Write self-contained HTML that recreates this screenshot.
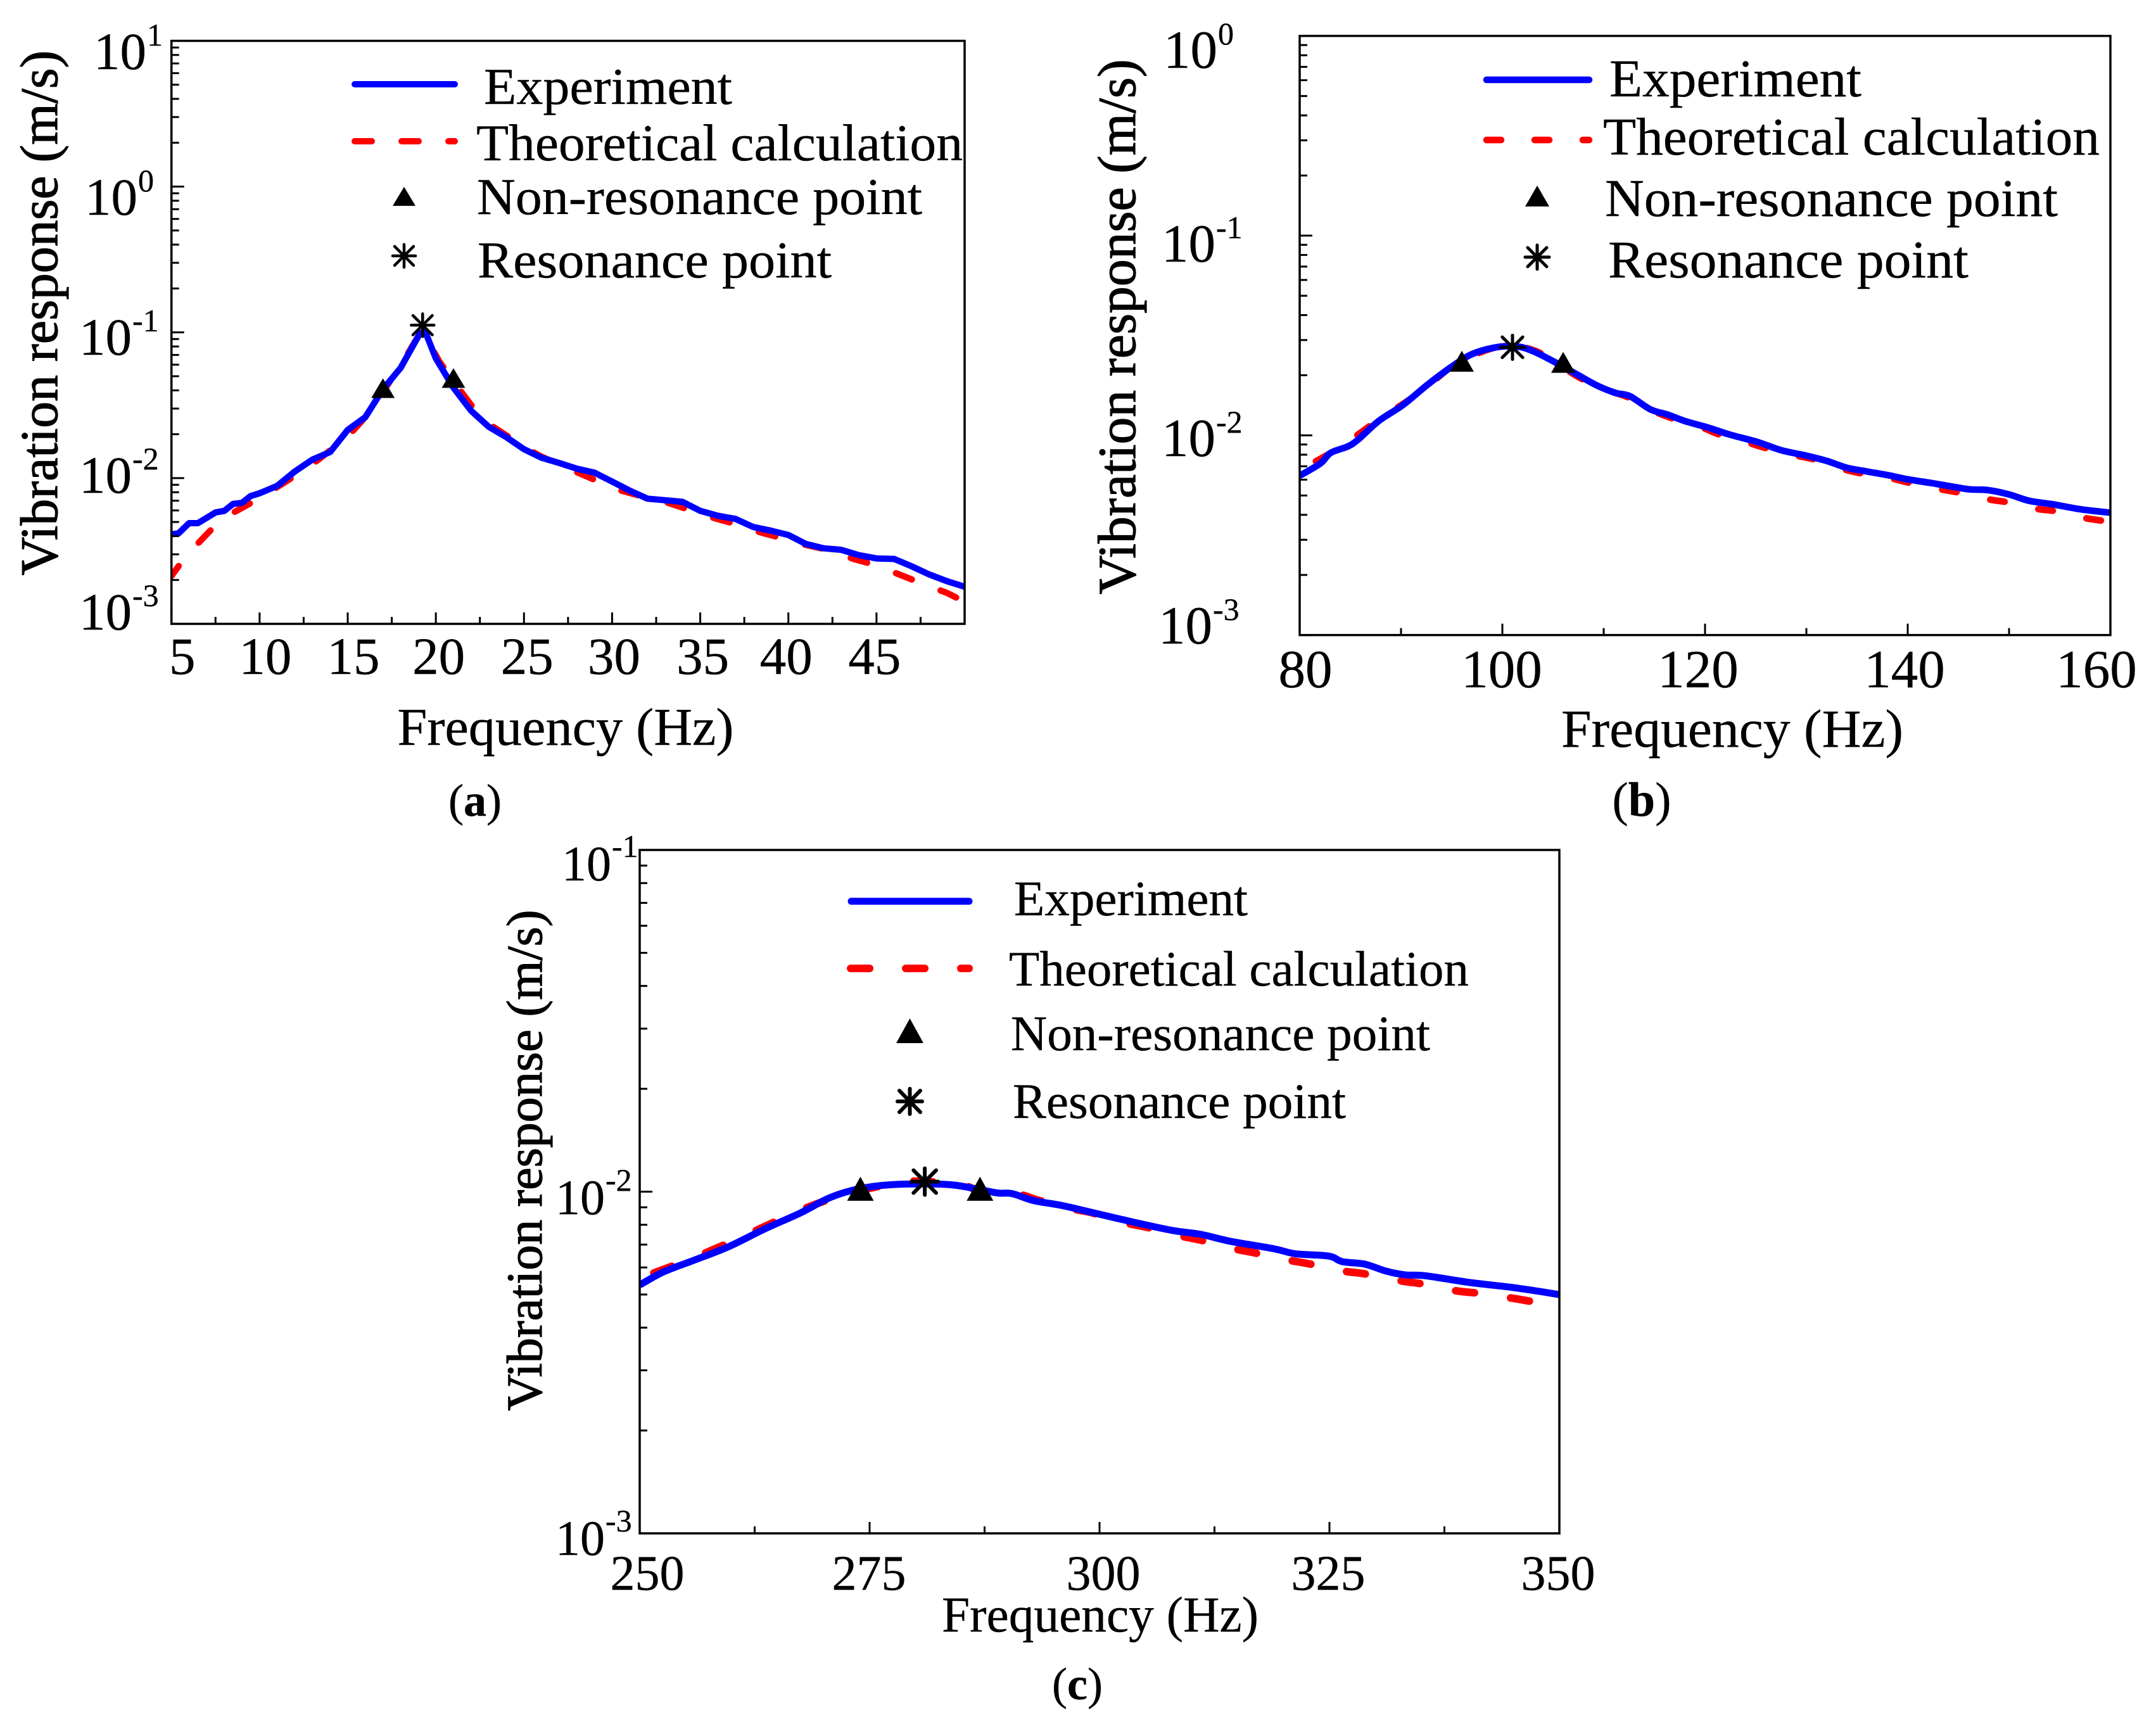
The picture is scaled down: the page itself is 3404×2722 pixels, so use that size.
<!DOCTYPE html>
<html lang="en">
<head>
<meta charset="utf-8">
<title>Vibration response charts</title>
<style>
html,body{margin:0;padding:0;background:#fff;}
svg{display:block;}
text{font-family:"Liberation Serif","Times New Roman",serif;fill:#000;stroke:#000;stroke-width:0.4px;}
.ytitle{stroke-width:1.2px;}
</style>
</head>
<body>
<svg id="figure" xmlns="http://www.w3.org/2000/svg" width="3404" height="2722" viewBox="0 0 3404 2722">
  <rect x="0" y="0" width="3404" height="2722" fill="#fff"/>

  <g id="panel-a"></g>
  <g id="panel-b"></g>
  <g id="panel-c"></g>

  <!-- Panel a text + legend -->
  <text x="893" y="1176" font-size="84" text-anchor="middle" textLength="531" lengthAdjust="spacingAndGlyphs">Frequency (Hz)</text>
  <text class="ytitle" transform="translate(90,494) rotate(-90)" font-size="84" text-anchor="middle" textLength="829" lengthAdjust="spacingAndGlyphs">Vibration response (m/s)</text>
  <text x="750" y="1288" font-size="72" text-anchor="middle">(<tspan font-weight="bold">a</tspan>)</text>
  <g>
    <line x1="560" y1="133" x2="718" y2="133" stroke="#0000ff" stroke-width="10" stroke-linecap="round"/>
    <line x1="560" y1="223" x2="718" y2="223" stroke="#ff0000" stroke-width="10" stroke-linecap="round" stroke-dasharray="27 47"/>
    <polygon points="638,295 656,325 620,325" fill="#000"/>
    <g stroke="#000" stroke-width="4.5" stroke-linecap="round">
      <line x1="638" y1="386" x2="638" y2="422"/><line x1="620" y1="404" x2="656" y2="404"/><line x1="623" y1="389" x2="653" y2="419"/><line x1="653" y1="389" x2="623" y2="419"/>
    </g>
    <text x="764" y="164" font-size="82" textLength="392" lengthAdjust="spacingAndGlyphs">Experiment</text>
    <text x="752" y="253" font-size="82" textLength="768" lengthAdjust="spacingAndGlyphs">Theoretical calculation</text>
    <text x="753" y="338" font-size="82" textLength="703" lengthAdjust="spacingAndGlyphs">Non-resonance point</text>
    <text x="754" y="438" font-size="82" textLength="559" lengthAdjust="spacingAndGlyphs">Resonance point</text>
  </g>

  <!-- Panel b text + legend -->
  <text x="2735" y="1179" font-size="85" text-anchor="middle" textLength="540" lengthAdjust="spacingAndGlyphs">Frequency (Hz)</text>
  <text class="ytitle" transform="translate(1792,516) rotate(-90)" font-size="85" text-anchor="middle" textLength="845" lengthAdjust="spacingAndGlyphs">Vibration response (m/s)</text>
  <text x="2592" y="1288" font-size="76" text-anchor="middle">(<tspan font-weight="bold">b</tspan>)</text>
  <g>
    <line x1="2347" y1="126" x2="2509" y2="126" stroke="#0000ff" stroke-width="10.5" stroke-linecap="round"/>
    <line x1="2347" y1="221" x2="2509" y2="221" stroke="#ff0000" stroke-width="10.5" stroke-linecap="round" stroke-dasharray="23 53"/>
    <polygon points="2427,293 2446,326 2408,326" fill="#000"/>
    <g stroke="#000" stroke-width="5" stroke-linecap="round">
      <line x1="2427" y1="387" x2="2427" y2="425"/><line x1="2408" y1="406" x2="2446" y2="406"/><line x1="2412" y1="391" x2="2442" y2="421"/><line x1="2442" y1="391" x2="2412" y2="421"/>
    </g>
    <text x="2541" y="152" font-size="84" textLength="398" lengthAdjust="spacingAndGlyphs">Experiment</text>
    <text x="2531" y="244" font-size="84" textLength="784" lengthAdjust="spacingAndGlyphs">Theoretical calculation</text>
    <text x="2534" y="341" font-size="84" textLength="715" lengthAdjust="spacingAndGlyphs">Non-resonance point</text>
    <text x="2539" y="438" font-size="84" textLength="569" lengthAdjust="spacingAndGlyphs">Resonance point</text>
  </g>

  <!-- Panel c text + legend -->
  <text x="1737" y="2576" font-size="79" text-anchor="middle" textLength="500" lengthAdjust="spacingAndGlyphs">Frequency (Hz)</text>
  <text class="ytitle" transform="translate(855,1832) rotate(-90)" font-size="79" text-anchor="middle" textLength="791" lengthAdjust="spacingAndGlyphs">Vibration response (m/s)</text>
  <text x="1701" y="2683" font-size="72" text-anchor="middle">(<tspan font-weight="bold">c</tspan>)</text>
  <g>
    <line x1="1344" y1="1423" x2="1530" y2="1423" stroke="#0000ff" stroke-width="11" stroke-linecap="round"/>
    <line x1="1343" y1="1529" x2="1530" y2="1529" stroke="#ff0000" stroke-width="12" stroke-linecap="round" stroke-dasharray="30 57"/>
    <polygon points="1436.5,1608 1458,1647 1415,1647" fill="#000"/>
    <g stroke="#000" stroke-width="6" stroke-linecap="round">
      <line x1="1436.5" y1="1719" x2="1436.5" y2="1759"/><line x1="1417" y1="1739" x2="1456" y2="1739"/><line x1="1420" y1="1722" x2="1453" y2="1756"/><line x1="1453" y1="1722" x2="1420" y2="1756"/>
    </g>
    <text x="1601" y="1445" font-size="78" textLength="369" lengthAdjust="spacingAndGlyphs">Experiment</text>
    <text x="1593" y="1556" font-size="78" textLength="726" lengthAdjust="spacingAndGlyphs">Theoretical calculation</text>
    <text x="1596" y="1658" font-size="78" textLength="662" lengthAdjust="spacingAndGlyphs">Non-resonance point</text>
    <text x="1599" y="1765" font-size="78" textLength="526" lengthAdjust="spacingAndGlyphs">Resonance point</text>
  </g>
</svg>

<script>
// ---------- Panel a data ----------
var aXTicks = [5,10,15,20,25,30,35,40,45];
var aXLabels = ["5","10","15","20","25","30","35","40","45"];
var aXMinorTicks = [7.5,12.5,17.5,22.5,27.5,32.5,37.5,42.5,47.5];
var aYExponents = [1,0,-1,-2,-3];
var aExpFreq = [5,5.4,6,6.5,7.5,8,8.5,9,9.5,10,11,12,13,14,15,16,17,18,19.1,19.4,20,21,22,23,24,25,26,27,28,29,30,31,32,33,34,35,36,37,38,39,40,41,42,43,44,45,46,47,48,49,50];
var aExpVal = [4.11e-3,4.18e-3,4.91e-3,4.91e-3,5.81e-3,5.96e-3,6.65e-3,6.76e-3,7.54e-3,7.87e-3,8.85e-3,1.11e-2,1.34e-2,1.51e-2,2.14e-2,2.62e-2,4.07e-2,5.70e-2,9.86e-2,0.101,6.63e-2,4.17e-2,2.90e-2,2.25e-2,1.91e-2,1.58e-2,1.38e-2,1.27e-2,1.16e-2,1.09e-2,9.47e-3,8.20e-3,7.23e-3,7.05e-3,6.87e-3,5.96e-3,5.52e-3,5.25e-3,4.62e-3,4.36e-3,4.07e-3,3.53e-3,3.30e-3,3.22e-3,2.96e-3,2.81e-3,2.79e-3,2.48e-3,2.18e-3,1.96e-3,1.80e-3];
var aTheoryFreq = [5,5.84,7.2,8.3,9.96,11.06,12.7,13.8,15.3,16.2,17.3,18.2,19.1,19.4,20.2,21,22.25,23.25,25,25.9,27.6,28.7,30.3,31.4,32.9,34,35.65,36.75,38.4,39.5,41,42.1,43.7,44.8,46.3,47.4,49,50];
var aTheoryVal = [2.13e-3,2.94e-3,4.36e-3,5.61e-3,7.23e-3,8.77e-3,1.17e-2,1.48e-2,2.11e-2,2.79e-2,4.43e-2,6.47e-2,9.86e-2,9.44e-2,6.31e-2,4.61e-2,2.90e-2,2.25e-2,1.64e-2,1.42e-2,1.15e-2,1.01e-2,8.34e-3,7.67e-3,6.93e-3,6.27e-3,5.38e-3,4.94e-3,4.25e-3,3.91e-3,3.48e-3,3.25e-3,2.79e-3,2.56e-3,2.18e-3,1.93e-3,1.63e-3,1.42e-3];
var aNonResFreq = [17,21];
var aNonResVal = [0.0414,0.0486];
var aResFreq = [19.25];
var aResVal = [0.112];

// ---------- Panel b data ----------
var bXTicks = [80,100,120,140,160];
var bXLabels = ["80","100","120","140","160"];
var bXMinorTicks = [90,110,130,150];
var bYExponents = [0,-1,-2,-3];
var bExpFreq = [80,82.04,83.06,84.75,85.77,87.8,90.2,92.6,94.9,97,99.4,101.4,103.1,105.5,107.5,109.5,111.2,112.6,114.6,116.3,118,120.4,122.4,125.2,127.5,129.9,132,134,136,138.1,140.1,142.8,145.9,147.9,150,152,154.4,157.1,160];
var bExpVal = [6.28e-3,7.23e-3,8.17e-3,8.80e-3,9.53e-3,1.18e-2,1.42e-2,1.79e-2,2.19e-2,2.55e-2,2.76e-2,2.79e-2,2.63e-2,2.28e-2,2.00e-2,1.76e-2,1.63e-2,1.57e-2,1.35e-2,1.27e-2,1.18e-2,1.09e-2,1.01e-2,9.25e-3,8.43e-3,7.93e-3,7.45e-3,6.88e-3,6.59e-3,6.31e-3,6.01e-3,5.72e-3,5.38e-3,5.32e-3,5.06e-3,4.70e-3,4.51e-3,4.26e-3,4.10e-3];
var bTheoryFreq = [81,83.06,85.77,87.8,90.5,92.6,94.9,97,99.4,101.4,103.4,105.5,107.5,109.9,112.3,114.6,116.3,119.4,121.4,124.1,125.8,128.9,130.9,133.6,135.3,138.4,140.4,143.2,145.2,147.9,150,152.7,154.7,157.4,159.5];
var bTheoryVal = [7.14e-3,8.17e-3,1.01e-2,1.20e-2,1.47e-2,1.76e-2,2.19e-2,2.50e-2,2.76e-2,2.79e-2,2.63e-2,2.28e-2,1.96e-2,1.71e-2,1.56e-2,1.35e-2,1.24e-2,1.11e-2,1.01e-2,9.25e-3,8.69e-3,7.93e-3,7.55e-3,6.79e-3,6.47e-3,6.08e-3,5.75e-3,5.38e-3,5.15e-3,4.79e-3,4.61e-3,4.29e-3,4.16e-3,3.86e-3,3.72e-3];
var bNonResFreq = [96,106];
var bNonResVal = [0.0235,0.0232];
var bResFreq = [101];
var bResVal = [0.0276];

// ---------- Panel c data ----------
var cXTicks = [250,275,300,325,350];
var cXLabels = ["250","275","300","325","350"];
var cXMinorTicks = [262.5,287.5,312.5,337.5];
var cYExponents = [-1,-2,-3];
var cExpFreq = [250,252.5,255.7,259.6,263.6,267.5,270.7,273.9,277.8,283.4,286.5,288.9,290.5,292.8,296,300,303.9,307.9,311,314.2,318.9,321.3,324.9,326.4,328.8,331.2,333.2,335.5,340.3,345,350];
var cExpVal = [5.33e-3,5.81e-3,6.27e-3,6.89e-3,7.78e-3,8.67e-3,9.61e-3,1.02e-2,1.05e-2,1.05e-2,1.02e-2,9.91e-3,9.87e-3,9.42e-3,9.10e-3,8.59e-3,8.12e-3,7.70e-3,7.50e-3,7.16e-3,6.81e-3,6.58e-3,6.48e-3,6.24e-3,6.14e-3,5.85e-3,5.71e-3,5.67e-3,5.42e-3,5.24e-3,5.00e-3];
var cTheoryFreq = [250,255.7,260.8,263.2,266.8,269.1,272.3,275.5,278.6,281,284.9,287.3,291.3,293.2,296.8,299.2,302.7,305.1,308.7,311,314.6,317,320.5,322.9,326.4,328.8,332.8,335.1,338.7,341,344.6,347];
var cTheoryVal = [5.58e-3,6.38e-3,7.30e-3,7.82e-3,8.67e-3,9.18e-3,9.84e-3,1.03e-2,1.07e-2,1.07e-2,1.05e-2,1.00e-2,9.80e-3,9.46e-3,8.93e-3,8.67e-3,8.12e-3,7.87e-3,7.43e-3,7.21e-3,6.81e-3,6.61e-3,6.31e-3,6.14e-3,5.86e-3,5.75e-3,5.48e-3,5.37e-3,5.13e-3,5.05e-3,4.89e-3,4.77e-3];
var cNonResFreq = [274,287];
var cNonResVal = [0.0102,0.0102];
var cResFreq = [281];
var cResVal = [0.0107];

// ---------- Rendering ----------
var NS = 'http://www.w3.org/2000/svg';

function make(tag, attrs, parent) {
  var node = document.createElementNS(NS, tag);
  for (var k in attrs) { node.setAttribute(k, attrs[k]); }
  parent.appendChild(node);
  return node;
}

function drawPanel(cfg) {
  var root = document.getElementById('panel-' + cfg.id);
  var L = cfg.left, R = cfg.right, T = cfg.top, B = cfg.bottom;
  var topExp = cfg.yExponents[0];
  var botExp = cfg.yExponents[cfg.yExponents.length - 1];
  function xScale(f) { return L + (f - cfg.xMin) / (cfg.xMax - cfg.xMin) * (R - L); }
  function yScale(v) { return T + (topExp - Math.log10(v)) / (topExp - botExp) * (B - T); }

  var clip = make('clipPath', { id: 'clip-' + cfg.id }, root);
  make('rect', { x: L, y: T, width: R - L, height: B - T }, clip);

  function pathFrom(xs, ys) {
    var px = xs.map(xScale), py = ys.map(yScale);
    var d = 'M' + px[0].toFixed(1) + ' ' + py[0].toFixed(1);
    for (var i = 0; i < px.length - 1; i++) {
      if (cfg.smooth) {
        var a = Math.max(i - 1, 0), b = Math.min(i + 2, px.length - 1);
        d += 'C' + (px[i] + (px[i + 1] - px[a]) / 6).toFixed(1) + ' ' + (py[i] + (py[i + 1] - py[a]) / 6).toFixed(1) +
             ' ' + (px[i + 1] - (px[b] - px[i]) / 6).toFixed(1) + ' ' + (py[i + 1] - (py[b] - py[i]) / 6).toFixed(1) +
             ' ' + px[i + 1].toFixed(1) + ' ' + py[i + 1].toFixed(1);
      } else {
        d += 'L' + px[i + 1].toFixed(1) + ' ' + py[i + 1].toFixed(1);
      }
    }
    return d;
  }

  var theory = make('path', { d: pathFrom(cfg.theoryFreq, cfg.theoryVal), fill: 'none', stroke: '#ff0000', 'stroke-width': cfg.redWidth, 'stroke-linecap': 'round', 'stroke-linejoin': 'round', 'stroke-dasharray': cfg.dashOn + ' ' + cfg.dashOff, 'clip-path': 'url(#clip-' + cfg.id + ')' }, root);
  
  
  // align dash phase with the anchor frequency where a dash begins
  var period = cfg.dashOn + cfg.dashOff;
  var total = theory.getTotalLength();
  var anchorX = xScale(cfg.dashAnchor), s = 0;
  while (s < total && theory.getPointAtLength(s).x < anchorX) { s += 1; }
  theory.setAttribute('stroke-dashoffset', (period - (s % period)).toFixed(1));

  var experiment = make('path', { d: pathFrom(cfg.expFreq, cfg.expVal), fill: 'none', stroke: '#0000ff', 'stroke-width': cfg.blueWidth, 'stroke-linejoin': 'round', 'clip-path': 'url(#clip-' + cfg.id + ')' }, root);
  
  

  var frame = make('rect', { x: L, y: T, width: R - L, height: B - T, fill: 'none', stroke: '#000', 'stroke-width': 3.5 }, root);
  
  

  // x ticks
  cfg.xTicks.forEach(function (f, i) {
    var t = make('line', { x1: xScale(f), x2: xScale(f), y1: B, y2: B - 18, stroke: '#000', 'stroke-width': 3 }, root);
    
    
    var lab = make('text', { x: xScale(f) + cfg.xLabelNudge[i], y: cfg.xLabelBaseline, 'font-size': cfg.tickFont, 'text-anchor': 'middle' }, root);
    lab.textContent = cfg.xLabels[i];
    
    
  });
  cfg.xMinorTicks.forEach(function (f) {
    var t = make('line', { x1: xScale(f), x2: xScale(f), y1: B, y2: B - 11, stroke: '#000', 'stroke-width': 3 }, root);
    
    
  });

  // y ticks
  cfg.yExponents.forEach(function (e, i) {
    var y = yScale(Math.pow(10, e));
    var t = make('line', { x1: L, x2: L + 20, y1: y, y2: y, stroke: '#000', 'stroke-width': 3 }, root);
    
    
    if (e > botExp) {
      for (var m = 2; m <= 9; m++) {
        var ym = yScale(m * Math.pow(10, e - 1));
        var tm = make('line', { x1: L, x2: L + 12, y1: ym, y2: ym, stroke: '#000', 'stroke-width': 3 }, root);
        
        
      }
    }
    var lab = make('text', { x: cfg.yLabelX[i], y: cfg.yLabelBaseline[i], 'font-size': cfg.tickFont }, root);
    
    
    lab.appendChild(document.createTextNode('10'));
    var sup = make('tspan', { dy: -37, dx: 1, 'font-size': 50 }, lab);
    sup.textContent = String(e);
  });

  // markers
  var th = cfg.triHeight / 2, tw = cfg.triWidth / 2;
  cfg.nonResFreq.forEach(function (f, i) {
    var x = xScale(f), y = yScale(cfg.nonResVal[i]);
    var tri = make('polygon', { points: x + ',' + (y - th) + ' ' + (x + tw) + ',' + (y + th) + ' ' + (x - tw) + ',' + (y + th), fill: '#000' }, root);
    
    
  });
  var sr = cfg.starRadius;
  cfg.resFreq.forEach(function (f, i) {
    var x = xScale(f), y = yScale(cfg.resVal[i]);
    var g = make('g', { stroke: '#000', 'stroke-width': cfg.starStroke, 'stroke-linecap': 'round' }, root);
    
    
    make('line', { x1: x, y1: y - sr, x2: x, y2: y + sr }, g);
    make('line', { x1: x - sr, y1: y, x2: x + sr, y2: y }, g);
    make('line', { x1: x - sr * 0.85, y1: y - sr * 0.85, x2: x + sr * 0.85, y2: y + sr * 0.85 }, g);
    make('line', { x1: x + sr * 0.85, y1: y - sr * 0.85, x2: x - sr * 0.85, y2: y + sr * 0.85 }, g);
  });
}

drawPanel({
  id: 'a', left: 270.7, right: 1523, top: 64.5, bottom: 985, xMin: 5, xMax: 50, tickFont: 83,
  xTicks: aXTicks, xLabels: aXLabels, xMinorTicks: aXMinorTicks, yExponents: aYExponents,
  expFreq: aExpFreq, expVal: aExpVal, theoryFreq: aTheoryFreq, theoryVal: aTheoryVal,
  nonResFreq: aNonResFreq, nonResVal: aNonResVal, resFreq: aResFreq, resVal: aResVal,
  smooth: false, blueWidth: 10, redWidth: 10, dashOn: 27, dashOff: 48.5, dashAnchor: 30.5,
  triWidth: 37, triHeight: 31, starRadius: 18, starStroke: 4.5,
  xLabelBaseline: 1064, xLabelNudge: [17,9,9,4.5,5,3,4,-3.5,-3],
  yLabelX: [148,134,125,125,125], yLabelBaseline: [109,339,560,778,994]
});
drawPanel({
  id: 'b', left: 2052, right: 3332, top: 56.7, bottom: 1002.7, xMin: 80, xMax: 160, tickFont: 85,
  xTicks: bXTicks, xLabels: bXLabels, xMinorTicks: bXMinorTicks, yExponents: bYExponents,
  expFreq: bExpFreq, expVal: bExpVal, theoryFreq: bTheoryFreq, theoryVal: bTheoryVal,
  nonResFreq: bNonResFreq, nonResVal: bNonResVal, resFreq: bResFreq, resVal: bResVal,
  smooth: true, blueWidth: 10.5, redWidth: 10.5, dashOn: 23, dashOff: 54.5, dashAnchor: 133.9,
  triWidth: 38, triHeight: 33, starRadius: 19, starStroke: 5,
  xLabelBaseline: 1085, xLabelNudge: [9,-1,-11,-5,-22],
  yLabelX: [1837,1834,1834,1829], yLabelBaseline: [107,413,720,1016]
});
drawPanel({
  id: 'c', left: 1010, right: 2462, top: 1342, bottom: 2421, xMin: 250, xMax: 350, tickFont: 78,
  xTicks: cXTicks, xLabels: cXLabels, xMinorTicks: cXMinorTicks, yExponents: cYExponents,
  expFreq: cExpFreq, expVal: cExpVal, theoryFreq: cTheoryFreq, theoryVal: cTheoryVal,
  nonResFreq: cNonResFreq, nonResVal: cNonResVal, resFreq: cResFreq, resVal: cResVal,
  smooth: true, blueWidth: 11, redWidth: 12, dashOn: 30, dashOff: 57.5, dashAnchor: 320.9,
  triWidth: 42, triHeight: 38, starRadius: 21, starStroke: 6,
  xLabelBaseline: 2510, xLabelNudge: [12,-1,6,-2,-2],
  yLabelX: [887,877,877], yLabelBaseline: [1390,1917,2455]
});
</script>
</body>
</html>
